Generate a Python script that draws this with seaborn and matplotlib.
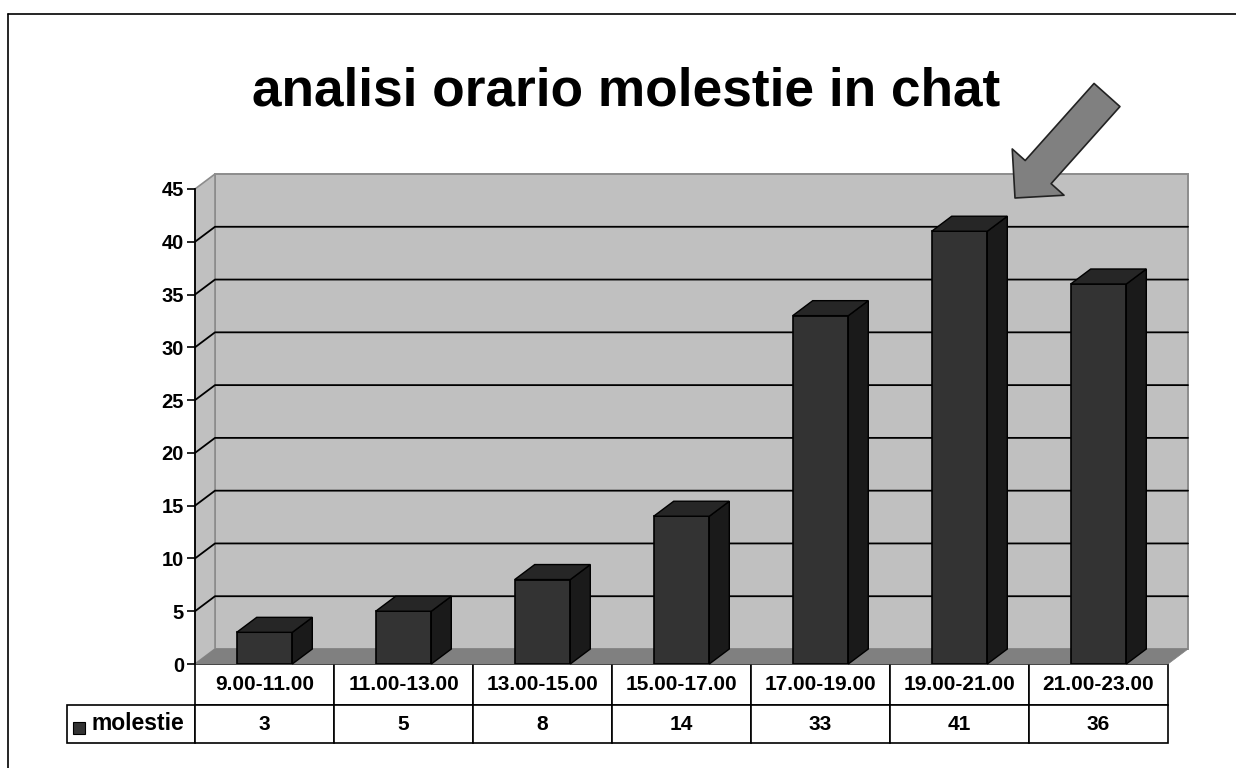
import pandas as pd
import matplotlib.pyplot as plt
from matplotlib.lines import Line2D
from matplotlib.patches import Polygon
import seaborn as sns

sns.set_theme(style="white")
plt.rcParams.update({
    "font.family": ["Liberation Sans", "DejaVu Sans"],
    "font.weight": "bold",
    "text.color": "black",
    "xtick.color": "black",
    "ytick.color": "black",
    "axes.axisbelow": True,
})

orari = ["9.00-11.00", "11.00-13.00", "13.00-15.00", "15.00-17.00",
         "17.00-19.00", "19.00-21.00", "21.00-23.00"]
molestie = [3, 5, 8, 14, 33, 41, 36]
y_ticks = [0, 5, 10, 15, 20, 25, 30, 35, 40, 45]
title = "analisi orario molestie in chat"
series_name = "molestie"

W, H = 1236, 768
FRONT = "#333333"
SIDE = "#1a1a1a"
TOP = "#262626"
WALL = "#c0c0c0"
FLOOR = "#808080"

df = pd.DataFrame({"orario": orari, "molestie": molestie})

fig = plt.figure(figsize=(W / 100, H / 100), dpi=100)
fig.patch.set_facecolor("white")

# plot area in pixels: front plane of the fake 3d box
left, right, y0, y45 = 195, 1168, 664, 189
ax_w, ax_h = right - left, y0 - y45
ax = fig.add_axes([left / W, 1 - y0 / H, ax_w / W, ax_h / H])
ax.patch.set_visible(False)

sns.barplot(data=df, x="orario", y="molestie", color=FRONT, saturation=1,
            width=0.4, edgecolor="black", linewidth=1.2, ax=ax, zorder=3)
ax.set_xlim(-0.5, 6.5)
ax.set_ylim(0, 45)
ax.set_yticks(y_ticks)
ax.set_xticks([])
ax.set_xlabel("")
ax.set_ylabel("")
ax.tick_params(axis="y", left=True, length=6, width=1.2, color="black",
               labelsize=14.5, pad=2)
sns.despine(ax=ax, top=True, right=True, bottom=True)
ax.spines["left"].set_color("black")
ax.spines["left"].set_linewidth(1.3)

# depth of the box in data units
dx = 20 / (ax_w / 7)
dy = 15 / (ax_h / 45)
x_l, x_r = -0.5, 6.5

ax.add_patch(Polygon([(x_l + dx, dy), (x_r + dx, dy), (x_r + dx, 45 + dy), (x_l + dx, 45 + dy)],
                     fc=WALL, ec="#8c8c8c", lw=1.4, clip_on=False, zorder=0.2))
ax.add_patch(Polygon([(x_l, 0), (x_l + dx, dy), (x_l + dx, 45 + dy), (x_l, 45)],
                     fc=WALL, ec="#8c8c8c", lw=1.2, clip_on=False, zorder=0.2))
ax.add_patch(Polygon([(x_l, 0), (x_r, 0), (x_r + dx, dy), (x_l + dx, dy)],
                     fc=FLOOR, ec=FLOOR, lw=0.5, clip_on=False, zorder=0.3))

for t in y_ticks[1:-1]:
    ax.plot([x_l, x_l + dx, x_r + dx], [t, t + dy, t + dy], color="black", lw=1.3,
            clip_on=False, zorder=0.5)

# side and top faces from the seaborn bars
for bar in ax.patches:
    if bar.get_zorder() != 3:
        continue
    x0 = bar.get_x()
    x1 = x0 + bar.get_width()
    h = bar.get_height()
    ax.add_patch(Polygon([(x1, 0), (x1 + dx, dy), (x1 + dx, h + dy), (x1, h)],
                         fc=SIDE, ec="black", lw=1.0, clip_on=False, zorder=4))
    ax.add_patch(Polygon([(x0, h), (x1, h), (x1 + dx, h + dy), (x0 + dx, h + dy)],
                         fc=TOP, ec="black", lw=1.0, clip_on=False, zorder=4))

# data table under the chart, bbox only covers the value columns
table_bottom = 743
tab = ax.table(cellText=[orari, [str(v) for v in molestie]], cellLoc="center",
               bbox=[0, (y0 - table_bottom) / ax_h, 1, (table_bottom - y0) / ax_h])
# added by hand, rowLabels= would auto size this column to the text
tab.add_cell(1, -1, width=128 / ax_w, height=38 / ax_h, text=series_name, loc="right")
tab.auto_set_font_size(False)
tab.set_fontsize(15)
for (r, c), cell in tab.get_celld().items():
    # cell sizes are axes fractions
    cell.set_width(128 / ax_w if c == -1 else 1 / 7)
    cell.set_height((41 if r == 0 else 38) / ax_h)
    cell.set_edgecolor("black")
    cell.set_linewidth(1.2)
    cell.set_facecolor("white")
    cell.get_text().set_fontweight("bold")
tab[(1, -1)].PAD = 0.085
tab[(1, -1)].get_text().set_fontsize(16.5)

fig.add_artist(Line2D([79 / W], [1 - 728 / H], marker="s", markersize=9,
                      color=FRONT, markeredgecolor="black", markeredgewidth=0.8, zorder=10))

fig.text(626 / W, 1 - 91 / H, title, ha="center", va="center", fontsize=38.3, fontweight="bold",
         color="black")

# grey arrow pointing at the peak
ax.annotate("", xy=(1015, H - 198), xycoords="figure pixels",
            xytext=(1107, H - 95), textcoords="figure pixels",
            arrowprops=dict(width=25, headwidth=50, headlength=25, shrink=0,
                            fc="#808080", ec="#222222", lw=1.2),
            annotation_clip=False, zorder=6)

# outer frame, runs off the right and bottom of the picture
fig.add_artist(Line2D([8 / W, 8 / W], [0, 1 - 14 / H], color="black", lw=1.2))
fig.add_artist(Line2D([8 / W, 1], [1 - 14 / H, 1 - 14 / H], color="black", lw=1.2))

fig.savefig("out.png", dpi=100)
